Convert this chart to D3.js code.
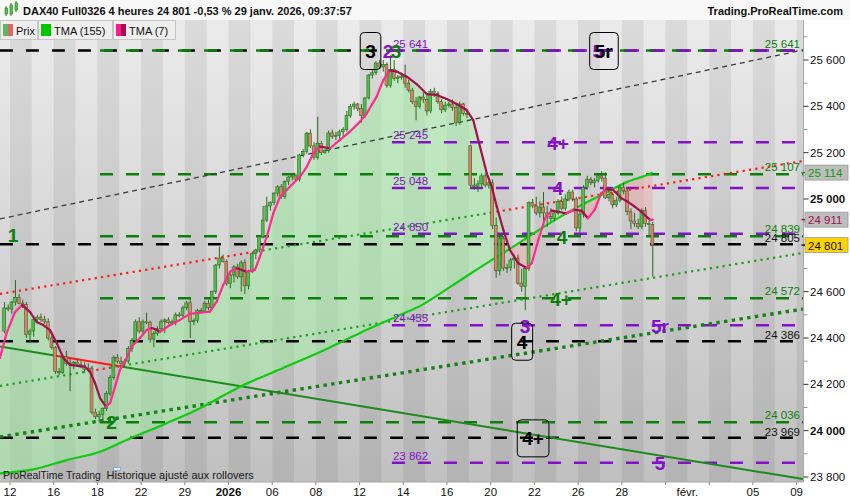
<!DOCTYPE html>
<html>
<head>
<meta charset="UTF-8">
<style>
  body { margin: 0; background: #fff; font-family: Arial, "Liberation Sans", sans-serif; }
  svg { display: block; }
  text { font-family: Arial, "Liberation Sans", sans-serif; }
</style>
</head>
<body>
<svg id="chart" width="850" height="500"></svg>
<script src="https://d3js.org/d3.v7.min.js"></script>
<script>
// session index: 0 = 12 déc. 2025, one unit per trading day
const tickDays = [0,2,4,6,8,10,12,14,16,18,20,22,24,26,28,30,32,34,36];
const labelDays = [0,2,4,6,8,10,12,14,16,18,20,22,24,26,28,31,34,36];
const labelTexts = ["12","16","18","22","29","2026","06","08","12","14","16","20","22","26","28","févr.","05","09"];

// 4h bars [open, high, low, close], 6 bars per session, first one = 5th bar of 11 déc.
const firstSlot = -2;
const bars = [
[24430,24555,24420,24530],[24530,24545,24515,24525],
[24525,24560,24505,24555],[24555,24650,24540,24575],[24575,24590,24545,24550],[24550,24565,24530,24545],[24545,24555,24400,24415],[24415,24440,24380,24430],
[24430,24490,24405,24480],[24480,24500,24465,24490],[24490,24505,24470,24480],[24480,24495,24460,24470],[24470,24485,24390,24400],[24400,24410,24350,24360],
[24360,24365,24245,24255],[24255,24270,24240,24250],[24250,24330,24245,24320],[24320,24345,24280,24290],[24290,24310,24170,24285],[24285,24300,24265,24295],
[24295,24310,24275,24285],[24285,24300,24270,24280],[24280,24295,24250,24265],[24265,24290,24255,24270],[24270,24280,24070,24080],[24080,24095,24050,24060],
[24060,24085,24035,24070],[24070,24100,24045,24095],[24095,24170,24085,24160],[24160,24240,24150,24230],[24230,24325,24220,24315],[24315,24330,24290,24300],
[24300,24320,24270,24290],[24290,24310,24275,24300],[24300,24365,24290,24355],[24355,24400,24340,24390],[24390,24480,24380,24470],[24470,24490,24420,24430],
[24430,24480,24420,24470],[24470,24510,24460,24468],[24468,24475,24380,24395],[24395,24430,24360,24420],[24420,24450,24410,24440],[24440,24480,24430,24470],
[24470,24485,24420,24478],[24478,24490,24460,24466],[24466,24480,24455,24470],[24470,24510,24455,24500],[24500,24512,24490,24498],[24498,24540,24490,24530],
[24530,24560,24520,24552],[24552,24570,24400,24470],[24470,24485,24455,24475],[24475,24525,24465,24518],[24518,24530,24505,24515],[24515,24560,24510,24550],
[24550,24565,24520,24530],[24530,24605,24520,24600],[24600,24720,24590,24715],[24715,24795,24700,24745],[24745,24760,24725,24730],[24730,24740,24625,24635],
[24635,24680,24615,24672],[24672,24715,24640,24707],[24707,24720,24655,24664],[24664,24735,24600,24725],[24725,24740,24590,24625],[24625,24695,24610,24686],
[24686,24770,24680,24764],[24764,24785,24740,24780],[24780,24840,24770,24837],[24837,24970,24830,24909],[24909,25010,24900,24970],[24970,24990,24950,24985],
[24985,25030,24975,25025],[25025,25060,25010,25053],[25053,25065,25000,25010],[25010,25080,25000,25075],[25075,25100,25060,25095],[25095,25110,25080,25100],
[25100,25110,25080,25085],[25085,25195,25075,25190],[25190,25215,25180,25205],[25205,25290,25195,25284],[25284,25300,25220,25229],[25229,25245,25170,25180],
[25180,25355,25170,25240],[25240,25250,25190,25200],[25200,25215,25195,25210],[25210,25295,25200,25285],[25285,25300,25260,25270],[25270,25290,25255,25275],
[25275,25300,25260,25290],[25290,25310,25270,25300],[25300,25380,25290,25360],[25360,25410,25350,25400],[25400,25420,25385,25410],[25410,25415,25380,25390],
[25390,25410,25330,25360],[25360,25440,25350,25436],[25436,25540,25430,25535],[25535,25560,25520,25545],[25545,25595,25535,25587],[25587,25600,25560,25570],
[25570,25600,25550,25580],[25580,25590,25480,25490],[25490,25620,25480,25560],[25560,25600,25510,25520],[25520,25535,25500,25525],[25525,25545,25515,25530],
[25530,25580,25480,25500],[25500,25515,25460,25470],[25470,25480,25410,25420],[25420,25440,25340,25400],[25400,25445,25390,25440],[25440,25460,25415,25430],
[25430,25450,25360,25380],[25380,25475,25370,25465],[25465,25480,25440,25455],[25455,25465,25410,25420],[25420,25430,25370,25385],[25385,25420,25375,25405],
[25405,25420,25395,25410],[25410,25430,25380,25395],[25395,25410,25315,25330],[25330,25420,25320,25410],[25410,25415,25360,25370],[25370,25380,25350,25365],
[25230,25235,25050,25060],[25060,25090,25040,25055],[25055,25080,25030,25065],[25065,25110,25050,25100],[25100,25110,25050,25060],[25060,25080,25045,25070],
[25070,25085,24870,24885],[24885,24920,24660,24690],[24690,24840,24670,24830],[24830,24840,24690,24702],[24702,24720,24680,24705],[24705,24745,24690,24737],
[24737,24760,24700,24745],[24745,24760,24630,24637],[24637,24700,24600,24622],[24622,24710,24520,24700],[24700,24990,24690,24985],[24985,25000,24960,24970],
[24970,25010,24930,24940],[24940,24990,24920,24965],[24965,25030,24900,24940],[24940,24970,24880,24925],[24925,24960,24900,24915],[24915,24950,24905,24940],
[24940,25000,24930,24990],[24990,25010,24950,24960],[24960,25020,24950,25000],[25000,25040,24990,25030],[25030,25040,24990,25000],[25000,25010,24860,24875],
[24875,24950,24850,24935],[24935,25060,24920,25050],[25050,25100,25040,25085],[25085,25095,25060,25070],[25070,25090,25050,25080],[25080,25110,25070,25100],
[25100,25120,25075,25090],[25090,25115,25000,25005],[25005,25040,24990,25020],[25020,25030,24960,24975],[24975,25010,24965,24995],[24995,25060,24985,25050],
[25050,25070,25020,25035],[25035,25045,24930,24945],[24945,24960,24870,24905],[24905,24940,24880,24895],[24895,24915,24870,24880],[24880,24960,24870,24950],
[24950,24965,24880,24895],[24895,24905,24840,24890],[24890,24900,24665,24801]
];

// TMA (7)
const tma7T = [-0.46,-0.15,0.23,0.56,0.92,1.22,1.52,1.83,2.14,2.44,2.75,3.13,3.43,3.66,3.89,4.12,4.39,4.58,4.81,5.03,5.26,5.57,5.95,6.26,6.49,6.71,6.87,7.32,7.78,8.24,8.70,9.15,9.46,9.76,10.07,10.38,10.83,11.21,11.44,11.75,12.05,12.36,12.66,12.97,13.27,13.58,13.88,14.19,14.65,15.10,15.56,16.02,16.33,16.78,17.09,17.39,17.70,18.16,18.61,19.07,19.53,19.99,20.44,20.90,21.20,21.51,21.82,22.05,22.28,22.58,22.88,23.26,23.65,23.88,24.18,24.49,24.79,25.08,25.46,25.84,26.15,26.45,26.76,27.06,27.29,27.60,27.98,28.28,28.59,28.89,29.30,29.42];
const tma7 = [24314,24422,24512,24542,24512,24469,24456,24434,24378,24314,24284,24279,24276,24255,24206,24141,24104,24119,24190,24262,24298,24363,24400,24435,24443,24435,24427,24456,24478,24504,24509,24514,24557,24629,24686,24701,24686,24694,24751,24837,24938,25010,25039,25068,25096,25139,25197,25226,25219,25255,25291,25334,25370,25442,25514,25555,25550,25528,25496,25453,25449,25432,25410,25384,25341,25226,25111,25053,24967,24866,24780,24723,24702,24723,24823,24917,24950,24945,24938,24953,24950,24917,24953,25025,25042,25039,25003,24988,24967,24945,24909,24911];

// TMA (155)
const tma155T = [-0.46,1.07,2.60,4.12,5.34,7.17,8.70,10.53,12.36,14.19,16.02,17.85,18.84,20.06,20.98,21.97,22.79,23.86,24.93,26.15,27.22,28.28,29.28,29.42];
const tma155 = [23816,23833,23873,23909,23960,24032,24097,24190,24265,24340,24422,24499,24542,24615,24672,24732,24780,24845,24909,24974,25025,25075,25108,25114];

// drawn trend lines [[t, price], [t, price]] and the spans where price sits below them
const channelTop = [[-0.46,24914],[36.29,25643]];
const midLine = [[-0.46,24590],[36.29,25164]];
const midLineBelow = [[-0.46,11.26],[21.97,36.29]];
const supportLine = [[-0.46,24193],[36.29,24767]];
const supportBelow = [[3.66,4.58]];
const thickSupport = [[-0.46,23973],[36.29,24525]];
const downLine = [[-0.46,24363],[36.29,23791]];
const downBelow = [[1.97,5.08]];

// horizontal levels
const levelsBlack = [25641,24805,24386,23969];
const levelsGreen = [25641,25107,24839,24572,24036];
const levelsPurple = [25641,25245,25048,24850,24455,23862];

// wave counts
const waveLabels = [
  {text:"1", t:0.14, p:24845, kind:"green"},
  {text:"2", t:4.65, p:24040, kind:"green"},
  {text:"3", t:16.50, p:25641, kind:"box"},
  {text:"2", t:17.30, p:25641, kind:"purple"},
  {text:"3", t:17.67, p:25641, kind:"green"},
  {text:"5", t:26.90, p:25641, kind:"purple"},
  {text:"5r", t:27.17, p:25641, kind:"box"},
  {text:"4+", t:25.08, p:25245, kind:"purple"},
  {text:"4", t:25.08, p:25048, kind:"purple"},
  {text:"4", t:25.26, p:24839, kind:"green"},
  {text:"4+", t:25.22, p:24572, kind:"green"},
  {text:"3", t:23.57, p:24455, kind:"purple"},
  {text:"4", t:23.43, p:24386, kind:"box"},
  {text:"5r", t:29.75, p:24455, kind:"purple"},
  {text:"4+", t:23.94, p:23969, kind:"box"},
  {text:"5", t:29.75, p:23862, kind:"purple"}
];

const lastTma155 = 25114, lastTma7 = 24911, lastPrice = 24801;
const yTicks = d3.range(23800, 25701, 100);

const plotTop = 20, plotBottom = 482, plotRight = 803.5;
const x = d3.scaleLinear().domain([0, 36]).range([10, 796.6]);
const y = d3.scaleLinear().domain([23800, 25600]).range([477, 60]);

const fmt = d3.formatLocale({decimal: ",", thousands: " ", grouping: [3], currency: ["", ""]}).format(",d");

const GREEN = "#0a800a", PURPLE = "#8410c8", PINK = "#ff2a8c", CRIMSON = "#a3104e";

const svg = d3.select("#chart");
const defs = svg.append("defs");

let grad = defs.append("linearGradient").attr("id", "bg").attr("x1", 0).attr("y1", 0).attr("x2", 0).attr("y2", 1);
grad.append("stop").attr("offset", "0%").attr("stop-color", "#ebebeb");
grad.append("stop").attr("offset", "100%").attr("stop-color", "#c0c0c0");

defs.append("clipPath").attr("id", "plotclip").append("rect")
    .attr("x", 0).attr("y", plotTop).attr("width", plotRight).attr("height", plotBottom - plotTop);

const pts155 = tma155T.map((t, i) => [t, tma155[i]]);
const pts7 = tma7T.map((t, i) => [t, tma7[i]]);

defs.append("clipPath").attr("id", "above155").append("path")
    .attr("d", d3.area().x(d => x(d[0])).y0(plotTop).y1(d => y(d[1])).curve(d3.curveMonotoneX)(pts155));
defs.append("clipPath").attr("id", "below155").append("path")
    .attr("d", d3.area().x(d => x(d[0])).y0(d => y(d[1])).y1(plotBottom).curve(d3.curveMonotoneX)(pts155));

const g = svg.append("g").attr("clip-path", "url(#plotclip)");

// background + session bands
g.append("rect").attr("x", 0).attr("y", plotTop).attr("width", plotRight).attr("height", plotBottom - plotTop)
    .attr("fill", "url(#bg)");
g.selectAll(".band").data(d3.range(-1, 37).filter(d => d % 2 === 0)).enter().append("rect")
    .attr("x", d => x(d)).attr("width", x(1) - x(0))
    .attr("y", plotTop).attr("height", plotBottom - plotTop)
    .attr("fill", "#000").attr("fill-opacity", 0.065);

// cloud between TMA 7 and TMA 155
g.append("path")
    .attr("d", d3.area().x(d => x(d[0])).y0(d => y(d[1])).y1(plotBottom)(pts7))
    .attr("fill", "#a0f0a0").attr("fill-opacity", 0.5).attr("clip-path", "url(#above155)");
g.append("path")
    .attr("d", d3.area().x(d => x(d[0])).y0(plotTop).y1(d => y(d[1]))(pts7))
    .attr("fill", "#f4a0a0").attr("fill-opacity", 0.42).attr("clip-path", "url(#below155)");

// horizontal levels
function drawLevels(levels, tStart, color) {
  g.selectAll(null).data(levels).enter().append("line")
    .attr("x1", x(tStart)).attr("x2", plotRight)
    .attr("y1", d => y(d)).attr("y2", d => y(d))
    .attr("stroke", color).attr("stroke-width", 2.5)
    .attr("stroke-dasharray", "13,13");
}
drawLevels(levelsBlack, -0.46, "#000");
drawLevels(levelsGreen, 4.12, GREEN);
drawLevels(levelsPurple, 17.48, PURPLE);

// trend lines
function priceOn(line, t) {
  const [[t0, p0], [t1, p1]] = line;
  return p0 + (p1 - p0) * (t - t0) / (t1 - t0);
}
function pieces(line, below) {
  const t0 = line[0][0], t1 = line[1][0];
  const out = [];
  let cur = t0;
  below.forEach(([a, b]) => {
    if (a > cur) out.push([cur, a, false]);
    out.push([a, b, true]);
    cur = b;
  });
  if (cur < t1) out.push([cur, t1, false]);
  return out;
}
function drawTrend(line, below, upColor, downColor, width, dash) {
  pieces(line, below).forEach(([a, b, isBelow]) => {
    g.append("line")
      .attr("x1", x(a)).attr("y1", y(priceOn(line, a)))
      .attr("x2", x(b)).attr("y2", y(priceOn(line, b)))
      .attr("stroke", isBelow ? downColor : upColor)
      .attr("stroke-width", width)
      .attr("stroke-dasharray", dash);
  });
}
drawTrend(channelTop, [], "#3a3a3a", "#3a3a3a", 1.3, "5,4");
drawTrend(midLine, midLineBelow, "#239a23", "#ff1a1a", 2.2, "2.2,4.2");
drawTrend(supportLine, supportBelow, "#239a23", "#ff1a1a", 2.2, "2.2,4.2");
drawTrend(thickSupport, [], "#17801a", "#17801a", 3.4, "3.4,4.4");
drawTrend(downLine, downBelow, "#1d8a1d", "#ff1a1a", 2, null);

// TMA 155
g.append("path").datum(pts155)
    .attr("d", d3.line().x(d => x(d[0])).y(d => y(d[1])).curve(d3.curveMonotoneX))
    .attr("fill", "none").attr("stroke", "#10cc10").attr("stroke-width", 2.2);

// candles
const slotW = x(1) - x(0);
const candles = g.append("g");
bars.forEach((b, k) => {
  const [o, h, l, c] = b;
  const cx = x((firstSlot + k) / 6 + 1 / 12);
  candles.append("line").attr("x1", cx).attr("x2", cx)
    .attr("y1", y(h)).attr("y2", y(l))
    .attr("stroke", "#2b6a1e").attr("stroke-width", 1);
  const top = y(Math.max(o, c)), bot = y(Math.min(o, c));
  candles.append("rect")
    .attr("x", cx - slotW / 12).attr("width", slotW / 6 * 0.78)
    .attr("y", top).attr("height", Math.max(1, bot - top))
    .attr("fill", c >= o ? "#4cc24c" : "#ec7a6c")
    .attr("stroke", "#2b6a1e").attr("stroke-width", 0.6);
});

// TMA 7, pink when rising, crimson when falling
for (let i = 0; i < pts7.length - 1; i++) {
  const a = pts7[i], b = pts7[i + 1];
  g.append("line")
    .attr("x1", x(a[0])).attr("y1", y(a[1]))
    .attr("x2", x(b[0])).attr("y2", y(b[1]))
    .attr("stroke", b[1] >= a[1] ? PINK : CRIMSON)
    .attr("stroke-width", 2.2).attr("stroke-linecap", "round");
}

// level labels
g.selectAll(null).data(levelsGreen).enter().append("text")
    .attr("x", 800).attr("y", d => y(d) - 7).attr("text-anchor", "end")
    .attr("dominant-baseline", "central").attr("font-size", 11.5).attr("fill", GREEN)
    .text(d => fmt(d));
g.selectAll(null).data(levelsBlack.filter(d => levelsGreen.indexOf(d) < 0)).enter().append("text")
    .attr("x", 800).attr("y", d => y(d) - 6).attr("text-anchor", "end")
    .attr("dominant-baseline", "central").attr("font-size", 11.5).attr("fill", "#111")
    .text(d => fmt(d));
g.selectAll(null).data(levelsPurple).enter().append("text")
    .attr("x", x(17.48) + 1).attr("y", d => y(d) - 7)
    .attr("dominant-baseline", "central").attr("font-size", 11.5).attr("fill", PURPLE)
    .text(d => fmt(d));

// wave labels
const kindColor = {green: GREEN, purple: PURPLE, box: "#000"};
waveLabels.forEach(w => {
  const cx = x(w.t), cy = y(w.p);
  const t = g.append("text")
    .attr("x", cx).attr("y", cy + 1).attr("text-anchor", "middle")
    .attr("dominant-baseline", "central")
    .attr("font-size", 19).attr("font-weight", "bold")
    .attr("fill", kindColor[w.kind]).text(w.text);
  if (w.kind === "box") {
    const bb = t.node().getBBox();
    g.append("rect")
      .attr("x", bb.x - 5).attr("y", cy - 18)
      .attr("width", bb.width + 10).attr("height", 37).attr("rx", 4)
      .attr("fill", "none").attr("stroke", "#000").attr("stroke-width", 1);
  }
});

// footer note with its small icon
g.append("text").attr("x", 3).attr("y", 479).attr("font-size", 10.4).attr("fill", "#1a1a1a")
    .text("ProRealTime Trading");
g.append("rect").attr("x", 113.5).attr("y", 467.5).attr("width", 7).attr("height", 3)
    .attr("fill", "#dde8f4").attr("stroke", "#7fa6d0").attr("stroke-width", 0.8);
g.append("text").attr("x", 106.5).attr("y", 479).attr("font-size", 11).attr("fill", "#1a1a1a")
    .text("Historique ajusté aux rollovers");

// right axis
svg.append("rect").attr("x", plotRight).attr("y", plotTop).attr("width", 850 - plotRight).attr("height", plotBottom - plotTop)
    .attr("fill", "#fff");
svg.append("line").attr("x1", plotRight).attr("x2", plotRight).attr("y1", plotTop).attr("y2", plotBottom)
    .attr("stroke", "#a8a8a8");
const ax = svg.append("g");
const boxed = [lastTma155, lastTma7, lastPrice];
yTicks.forEach(v => {
  const major = v % 200 === 0;
  ax.append("line").attr("x1", plotRight).attr("x2", plotRight + (major ? 5 : 4))
    .attr("y1", y(v)).attr("y2", y(v))
    .attr("stroke", major ? "#333" : "#999");
  const hidden = boxed.some(b => Math.abs(y(b) - y(v)) < 12);
  if (major && !hidden) {
    ax.append("text").attr("x", 810).attr("y", y(v)).attr("dominant-baseline", "central")
      .attr("font-size", 11.5).attr("font-weight", v % 1000 === 0 ? "bold" : "normal")
      .attr("fill", "#111").text(fmt(v));
  }
});
function valueBox(v, bg, fg) {
  ax.append("rect").attr("x", 805).attr("y", y(v) - 7.5).attr("width", 43).attr("height", 15)
    .attr("fill", bg).attr("stroke", "#9a9a9a").attr("stroke-width", 0.8);
  ax.append("line").attr("x1", plotRight - 2).attr("x2", 805).attr("y1", y(v)).attr("y2", y(v))
    .attr("stroke", fg).attr("stroke-width", 1.5);
  ax.append("text").attr("x", 808).attr("y", y(v) + 0.5).attr("dominant-baseline", "central")
    .attr("font-size", 11.5).attr("fill", fg).text(fmt(v));
}
valueBox(lastTma155, "#bdbdbd", "#119911");
valueBox(lastTma7, "#bdbdbd", CRIMSON);
valueBox(lastPrice, "#ffd400", "#111");

// bottom axis
svg.append("rect").attr("x", 0).attr("y", plotBottom).attr("width", 850).attr("height", 500 - plotBottom).attr("fill", "#fff");
svg.append("line").attr("x1", 0).attr("x2", plotRight).attr("y1", plotBottom).attr("y2", plotBottom).attr("stroke", "#a8a8a8");
tickDays.forEach(d => {
  svg.append("line").attr("x1", x(d)).attr("x2", x(d)).attr("y1", plotBottom).attr("y2", plotBottom + 3)
    .attr("stroke", "#888");
});
labelDays.forEach((d, i) => {
  svg.append("text").attr("x", x(d)).attr("y", 492).attr("text-anchor", "middle")
    .attr("dominant-baseline", "central").attr("font-size", 11.5)
    .attr("font-weight", labelTexts[i] === "2026" ? "bold" : "normal")
    .attr("fill", "#111").text(labelTexts[i]);
});

// header
svg.append("rect").attr("x", 0).attr("y", 0).attr("width", 850).attr("height", plotTop).attr("fill", "#f8f8f8");
const icon = svg.append("g");
[[5, 8, 6], [10, 5, 9], [15, 3, 7]].forEach(([ix, iy, ih]) => {
  icon.append("line").attr("x1", ix + 1).attr("x2", ix + 1).attr("y1", iy - 2).attr("y2", iy + ih + 2).attr("stroke", "#2e7d1e");
  icon.append("rect").attr("x", ix).attr("y", iy).attr("width", 2.5).attr("height", ih).attr("fill", "#4cc24c").attr("stroke", "#2e7d1e").attr("stroke-width", 0.6);
});
svg.append("text").attr("x", 23).attr("y", 15).attr("font-size", 11).attr("font-weight", "bold").attr("fill", "#111")
    .text("DAX40 Full0326 4 heures 24 801 -0,53 % 29 janv. 2026, 09:37:57");
svg.append("text").attr("x", 843).attr("y", 15).attr("text-anchor", "end").attr("font-size", 11).attr("font-weight", "bold").attr("fill", "#111")
    .text("Trading.ProRealTime.com");

// legend
const legend = [
  {label: "Prix", x0: 0, w: 37},
  {label: "TMA (155)", x0: 38, w: 74},
  {label: "TMA (7)", x0: 113, w: 62}
];
legend.forEach((item, i) => {
  svg.append("rect").attr("x", item.x0 + 0.5).attr("y", 20.5).attr("width", item.w).attr("height", 19)
    .attr("fill", "#eeeeee").attr("stroke", "#c6c6c6");
  const sx = item.x0 + 3;
  if (i === 0) {
    svg.append("rect").attr("x", sx).attr("y", 24).attr("width", 5).attr("height", 12).attr("fill", "#5cb85c");
    svg.append("rect").attr("x", sx + 5).attr("y", 24).attr("width", 5).attr("height", 12).attr("fill", "#e06666");
  } else if (i === 1) {
    svg.append("rect").attr("x", sx).attr("y", 24).attr("width", 10).attr("height", 12).attr("fill", "#00c800");
  } else {
    svg.append("rect").attr("x", sx).attr("y", 24).attr("width", 5).attr("height", 12).attr("fill", "#ff1a8c");
    svg.append("rect").attr("x", sx + 5).attr("y", 24).attr("width", 5).attr("height", 12).attr("fill", CRIMSON);
  }
  svg.append("text").attr("x", sx + 13).attr("y", 30.5).attr("dominant-baseline", "central")
    .attr("font-size", 11).attr("fill", "#111").text(item.label);
});
</script>
</body>
</html>
